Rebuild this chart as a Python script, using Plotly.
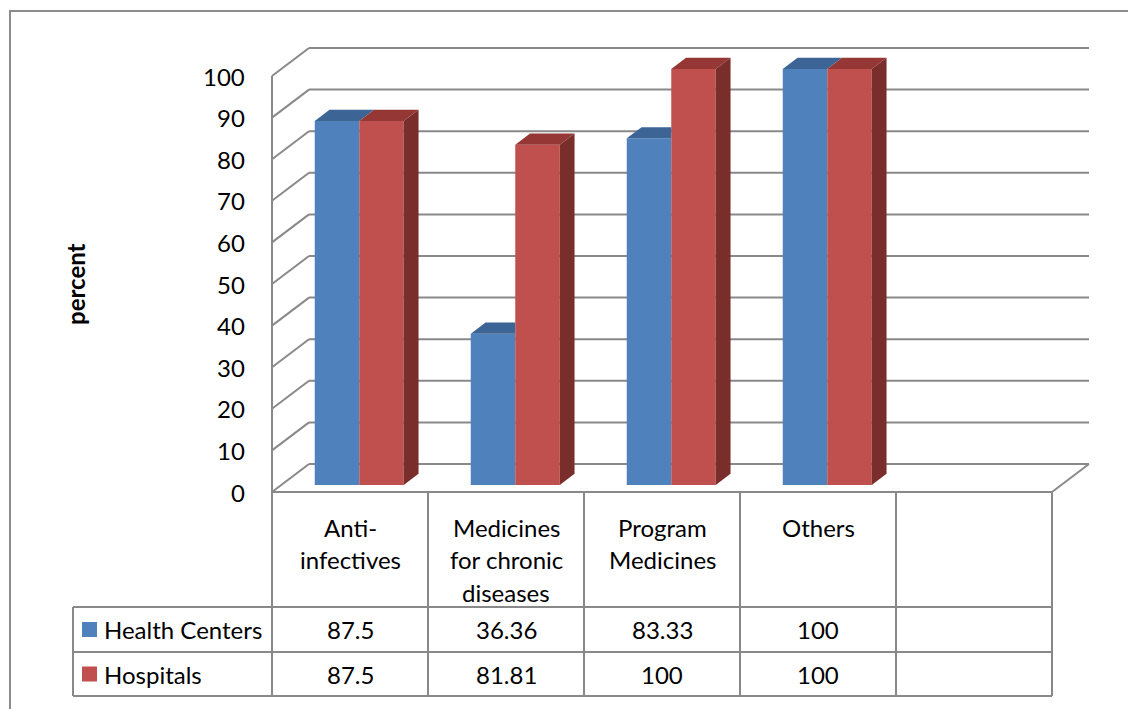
import plotly.graph_objects as go

# ---- data -------------------------------------------------------------
categories = ["Anti-<br>infectives", "Medicines<br>for chronic<br>diseases",
              "Program<br>Medicines", "Others"]
series_names = ["Health Centers", "Hospitals"]
health_centers = [87.5, 36.36, 83.33, 100]
hospitals = [87.5, 81.81, 100, 100]
value_labels_hc = ["87.5", "36.36", "83.33", "100"]
value_labels_hosp = ["87.5", "81.81", "100", "100"]
y_ticks = [0, 10, 20, 30, 40, 50, 60, 70, 80, 90, 100]
axis_title = "percent"

# ---- styling / geometry ----------------------------------------------
W, H = 1128, 709
PX_CAT = 156.0          # pixels per category column
PX_UNIT = 4.16          # pixels per percent
ORIGIN_PX = (350.0, 492.0)   # centre of first column, value 0 on front plane
N_COLS = 5               # four categories plus one empty column

BLUE, RED = "#4F81BD", "#C0504D"
BLUE_TOP, RED_TOP, RED_SIDE, BLUE_SIDE = "#3C6595", "#953735", "#7A2E2C", "#385D8A"
GRID = "#898989"
FONT = "Lato"
FS = 24

def px_x(px):
    return (px - ORIGIN_PX[0]) / PX_CAT

def px_y(py):
    return (ORIGIN_PX[1] - py) / PX_UNIT

# depth of the 3-D box in data units (37 px right, 28 px up)
DX = 37 / PX_CAT
DY = 28 / PX_UNIT
F0, F1 = 0.25, 0.65               # bar depth span as fraction of box depth
BAR_W = 44.5 / PX_CAT
ddx, ddy = (F1 - F0) * DX, (F1 - F0) * DY
base = F0 * DY

x_left = -0.5
x_right = N_COLS - 0.5
row_hdr_bottom = px_y(607)
row1_bottom = px_y(652)
row2_bottom = px_y(696)
legend_left = px_x(73)

fig = go.Figure()

# ---- bars (front faces) ----------------------------------------------
blue_x = [i + F0 * DX - BAR_W / 2 for i in range(len(health_centers))]
red_x = [i + F0 * DX + BAR_W / 2 for i in range(len(hospitals))]
fig.add_trace(go.Bar(x=blue_x, y=health_centers, base=base, width=BAR_W,
                     marker=dict(color=BLUE, line=dict(width=0)),
                     name=series_names[0], hoverinfo="skip"))
fig.add_trace(go.Bar(x=red_x, y=hospitals, base=base, width=BAR_W,
                     marker=dict(color=RED, line=dict(width=0)),
                     name=series_names[1], hoverinfo="skip"))


def poly(xs, ys, color):
    fig.add_trace(go.Scatter(x=xs + [xs[0]], y=ys + [ys[0]], mode="lines",
                             fill="toself", fillcolor=color,
                             line=dict(width=0, color=color),
                             hoverinfo="skip", showlegend=False))


# ---- top and side faces ------------------------------------------------
for i, (hc, hp) in enumerate(zip(health_centers, hospitals)):
    bx = blue_x[i]
    rx = red_x[i]
    bl, br = bx - BAR_W / 2, bx + BAR_W / 2
    rl, rr = rx - BAR_W / 2, rx + BAR_W / 2
    bt, rt = base + hc, base + hp
    # blue top, clipped by the red front face when red is taller
    if hp > hc:
        poly([bl, br, br, bl + ddx], [bt, bt, bt + ddy, bt + ddy], BLUE_TOP)
    else:
        if hc > hp:
            poly([br, br, br + ddx, br + ddx], [rt, bt, bt + ddy, rt + ddy], BLUE_SIDE)
        poly([bl, br, br + ddx, bl + ddx], [bt, bt, bt + ddy, bt + ddy], BLUE_TOP)
    # red top and side
    poly([rl, rr, rr + ddx, rl + ddx], [rt, rt, rt + ddy, rt + ddy], RED_TOP)
    poly([rr, rr, rr + ddx, rr + ddx], [base, rt, rt + ddy, base + ddy], RED_SIDE)

# ---- walls, floor, gridlines, table -----------------------------------
shapes = []


def seg(x0, y0, x1, y1, layer="below", color=GRID, width=2):
    shapes.append(dict(type="line", xref="x", yref="y", x0=x0, y0=y0, x1=x1, y1=y1,
                       layer=layer, line=dict(color=color, width=width)))


for v in y_ticks:
    seg(x_left + DX, v + DY, x_right + DX, v + DY)      # back wall
    seg(x_left, v, x_left + DX, v + DY)                  # side wall
seg(x_right, 0, x_right + DX, DY)                        # floor right edge
seg(x_left, y_ticks[-1], x_left, row2_bottom)            # front vertical axis

# table
seg(x_left, 0, x_right, 0, layer="above")
for k in range(N_COLS + 1):
    seg(x_left + k, 0, x_left + k, row2_bottom, layer="above")
for yy in (row_hdr_bottom, row1_bottom, row2_bottom):
    seg(legend_left, yy, x_right, yy, layer="above")
seg(legend_left, row_hdr_bottom, legend_left, row2_bottom, layer="above")

# outer frame
shapes.append(dict(type="rect", xref="x", yref="y", x0=px_x(10), y0=px_y(11),
                   x1=px_x(W + 20), y1=px_y(H + 20), layer="below",
                   line=dict(color="#8C8C8C", width=2)))

# legend keys
key = 15 / PX_CAT, 15 / PX_UNIT
for color, yc in ((BLUE, (row_hdr_bottom + row1_bottom) / 2),
                  (RED, (row1_bottom + row2_bottom) / 2)):
    shapes.append(dict(type="rect", xref="x", yref="y",
                       x0=px_x(82), x1=px_x(82) + key[0],
                       y0=yc - key[1] / 2, y1=yc + key[1] / 2,
                       fillcolor=color, line=dict(width=0), layer="above"))

# ---- text --------------------------------------------------------------
ann = []
txt_font = dict(family=FONT, size=FS, color="#000000")

for v in y_ticks:
    ann.append(dict(x=px_x(247), y=v, xref="x", yref="y", text=str(v),
                    xanchor="right", yanchor="middle", showarrow=False, font=txt_font))

ann.append(dict(x=px_x(75), y=px_y(284), xref="x", yref="y", text="<b>" + axis_title + "</b>",
                textangle=-90, showarrow=False, xanchor="center", yanchor="middle",
                font=dict(family=FONT, size=24, color="#000000")))

line_pitch = 32.5
for i, cat in enumerate(categories):
    for j, line in enumerate(cat.split("<br>")):
        ann.append(dict(x=i, y=px_y(527 + j * line_pitch), xref="x", yref="y", text=line,
                        showarrow=False, xanchor="center", yanchor="middle", font=txt_font))

for row_mid, labels in (((row_hdr_bottom + row1_bottom) / 2, value_labels_hc),
                        ((row1_bottom + row2_bottom) / 2, value_labels_hosp)):
    for i, lab in enumerate(labels):
        ann.append(dict(x=i, y=row_mid, xref="x", yref="y", text=lab, showarrow=False,
                        xanchor="center", yanchor="middle", font=txt_font))

for name, row_mid in ((series_names[0], (row_hdr_bottom + row1_bottom) / 2),
                      (series_names[1], (row1_bottom + row2_bottom) / 2)):
    ann.append(dict(x=px_x(102), y=row_mid, xref="x", yref="y", text=name, showarrow=False,
                    xanchor="left", yanchor="middle", font=txt_font))

fig.update_layout(
    width=W, height=H, margin=dict(l=0, r=0, t=0, b=0),
    paper_bgcolor="white", plot_bgcolor="white",
    barmode="overlay", showlegend=False,
    xaxis=dict(range=[px_x(0), px_x(W)], visible=False, fixedrange=True),
    yaxis=dict(range=[px_y(H), px_y(0)], visible=False, fixedrange=True),
    shapes=shapes, annotations=ann,
)

fig.write_html("out.html")
